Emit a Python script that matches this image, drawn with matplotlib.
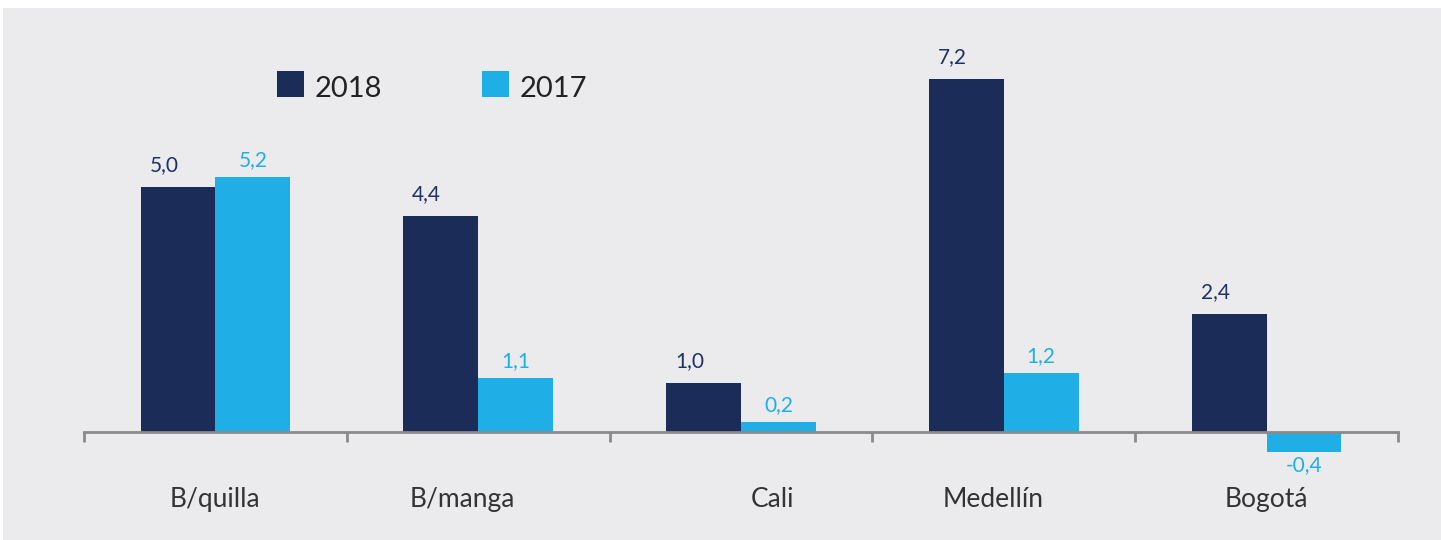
import matplotlib.pyplot as plt
import numpy as np
from matplotlib.patches import Rectangle

plt.rcParams['font.family'] = ['Lato', 'DejaVu Sans']

categories = ['B/quilla', 'B/manga', 'Cali', 'Medellín', 'Bogotá']
vals_2018 = [5.0, 4.4, 1.0, 7.2, 2.4]
vals_2017 = [5.2, 1.1, 0.2, 1.2, -0.4]
series_names = ['2018', '2017']

navy = '#1b2c58'
sky = '#1fafe6'
bg = '#ebebed'

W, H = 1441, 540
fig = plt.figure(figsize=(W / 100, H / 100), dpi=100)
fig.patch.set_facecolor('white')
# grey panel
fig.patches.append(Rectangle((3 / W, 0), 1 - 3 / W, 532 / H, transform=fig.transFigure,
                             facecolor=bg, edgecolor='none', zorder=-5))

ax = fig.add_axes([84 / W, 0, (1398 - 84) / W, 532 / H])
ax.set_zorder(2)
ax.patch.set_alpha(0)

x = np.arange(len(categories))
bw = 0.285
ax.bar(x - bw / 2, vals_2018, bw, color=navy, zorder=2)
ax.bar(x + bw / 2, vals_2017, bw, color=sky, zorder=2)

ppu = 49.0  # pixels per unit
ax.set_xlim(-0.5, len(categories) - 0.5)
ax.set_ylim(-(540 - 432) / ppu, (432 - 8) / ppu)

for s in ['top', 'right', 'left']:
    ax.spines[s].set_visible(False)
ax.spines['bottom'].set_position(('data', 0))
ax.spines['bottom'].set_color('#8a8a8a')
ax.spines['bottom'].set_linewidth(2)
ax.spines['bottom'].set_zorder(3)
ax.set_yticks([])
ax.set_xticks(np.arange(-0.5, len(categories)))
ax.tick_params(axis='x', length=7, width=2, color='#8a8a8a', labelbottom=False)

def lab(v):
    return f'{v:.1f}'.replace('.', ',')

for i, v in enumerate(vals_2018):
    ax.annotate(lab(v), (i - bw / 2, v), xytext=(-14, 12), textcoords='offset pixels',
                ha='center', va='bottom', fontsize=15, color='#1d3262')
for i, v in enumerate(vals_2017):
    if v >= 0:
        ax.annotate(lab(v), (i + bw / 2, v), xytext=(0, 7), textcoords='offset pixels',
                    ha='center', va='bottom', fontsize=15, color=sky)
    else:
        ax.annotate(lab(v), (i + bw / 2, v), xytext=(0, -3), textcoords='offset pixels',
                    ha='center', va='top', fontsize=15, color=sky)

label_shift = [0, -0.06, 0.12, -0.04, 0.0]
for i, c in enumerate(categories):
    ax.text(i + label_shift[i], -1.38, c, ha='center', va='center', fontsize=19, color='#333333')

# legend
for px, name, col in [(277, series_names[0], navy), (482, series_names[1], sky)]:
    fig.patches.append(Rectangle((px / W, 1 - 97 / H), 27 / W, 26 / H, transform=fig.transFigure,
                                 facecolor=col, edgecolor='none'))
    fig.text((px + 38) / W, 1 - 89 / H, name, ha='left', va='center', fontsize=21, color='#222222')

fig.savefig('out.png', dpi=100, facecolor=fig.get_facecolor())
